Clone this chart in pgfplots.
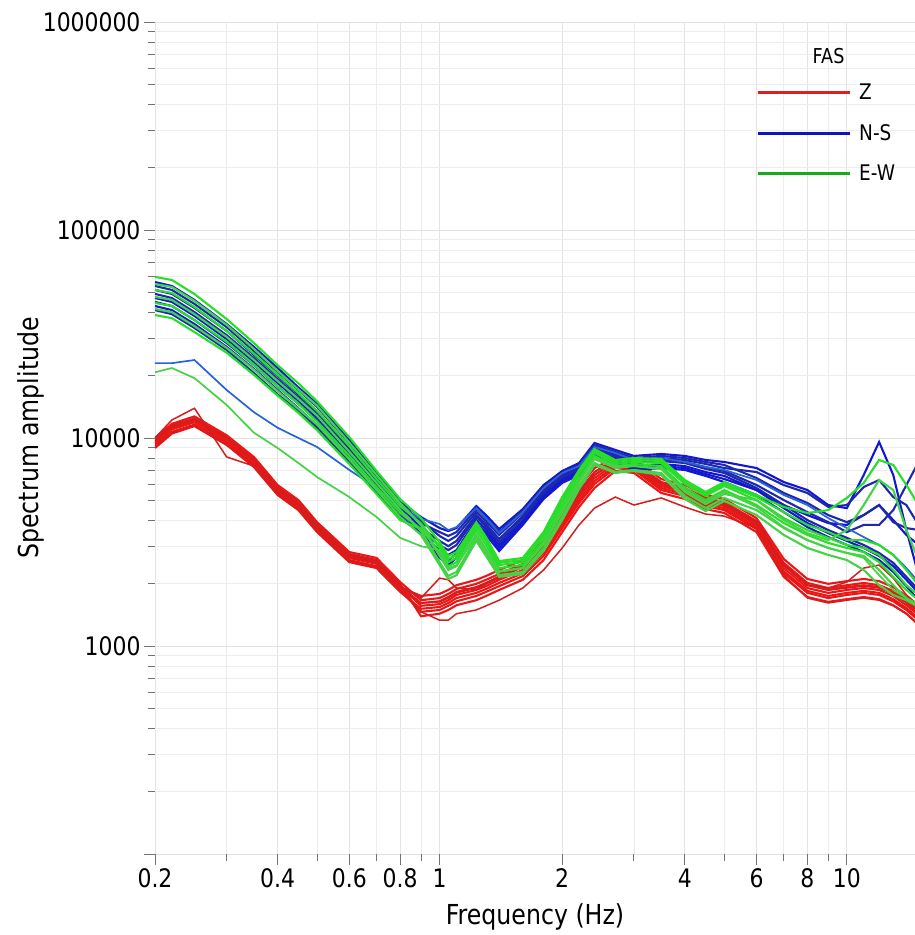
\documentclass[border=0pt]{standalone}
\usepackage{fontspec}
\setmainfont{DejaVu Sans}[FakeStretch=0.86]
\usepackage{pgfplots}
\usepackage{pgfplotstable}
\pgfplotsset{compat=1.18}

\definecolor{zred}{RGB}{235,22,22}
\definecolor{zredd}{RGB}{210,30,30}
\definecolor{nsblue}{RGB}{18,24,205}
\definecolor{nsblue2}{RGB}{30,40,175}
\definecolor{nsbluel}{RGB}{40,100,215}
\definecolor{ewgreen}{RGB}{40,222,40}
\definecolor{ewgreen2}{RGB}{70,210,70}
\definecolor{legred}{RGB}{225,30,30}
\definecolor{legblue}{RGB}{15,20,185}
\definecolor{leggreen}{RGB}{25,170,25}

% Z component (red)
\pgfplotstableread{
f    r1    r2    r3    r4    r5    r6    r7    rpk   rlow  rrise
0.2  10000 9780  9570  9460  9360  9150  8950  10000 9050  9670
0.22 11700 11500 11200 11100 11000 10700 10500 12200 10600 11400
0.25 12700 12400 12200 12000 11900 11600 11400 13900 11500 12300
0.3  10300 10100 9890  9780  9670  9460  9250  8100  9360  10000
0.35 8100  7930  7750  7670  7580  7420  7250  7330  7330  7840
0.4  5940  5810  5690  5620  5560  5440  5320  5560  5380  5750
0.45 5030  4920  4810  4760  4710  4600  4500  4760  4550  4870
0.5  3940  3860  3770  3730  3690  3610  3530  3730  3570  3820
0.6  2830  2770  2710  2680  2650  2590  2530  2680  2560  2740
0.7  2650  2590  2530  2510  2480  2420  2370  2510  2400  2560
0.8  2030  1990  1940  1920  1900  1860  1820  1940  1840  1960
0.9  1660  1390  1560  1740  1460  1610  1510  1700  1460  1610
1.0  1700  1430  1590  1780  1490  1640  1540  2120  1330  1630
1.05 1780  1490  1660  1860  1560  1720  1610  2080  1330  1700
1.1  1880  1570  1760  1960  1640  1820  1700  1900  1430  1800
1.23 1990  1660  1860  2080  1740  1920  1800  1860  1490  1900
1.3  2080  1740  1940  2170  1820  2010  1880  1990  1560  1990
1.4  2220  1860  2080  2320  1940  2150  2010  2170  1660  2120
1.6  2480  2080  2320  2590  2170  2400  2240  2450  1900  2400
1.8  3090  2590  2890  3230  2710  2990  2800  3060  2320  2990
2.0  4210  3530  3940  4400  3690  4080  3820  4120  2960  4080
2.2  5560  4660  5200  5810  4870  5380  5030  5500  3820  5380
2.4  6860  5750  6420  7170  6010  6640  6210  6860  4600  6640
2.7  7840  6940  7500  8100  7170  7670  7330  8010  5200  7670
3.0  7670  6790  7330  7930  7020  7500  7170  7670  4760  7500
3.5  6140  5440  5880  6350  5620  6010  5750  6010  5150  6010
4.0  5750  5090  5500  5940  5260  5620  5380  5620  4660  5620
4.5  5150  4550  4920  5320  4710  5030  4810  5030  4310  5030
5.0  4920  4360  4710  5090  4500  4810  4600  4760  4210  4810
6.0  3990  3530  3820  4120  3650  3900  3730  3940  3690  3940
7.0  2510  2150  2370  2620  2240  2450  2290  2450  2190  2450
8.0  2010  1720  1900  2100  1800  1960  1840  1960  1700  1960
9.0  1900  1630  1800  1990  1700  1860  1740  1860  1610  1900
10   1960  1680  1860  2050  1760  1920  1800  1900  1660  2030
11   2010  1720  1900  2100  1800  1960  1840  1940  1700  2370
12   1960  1680  1860  2050  1760  1920  1800  1900  1660  2450
13   1840  1570  1740  1920  1640  1800  1680  1780  1560  2120
14   1660  1430  1570  1740  1490  1630  1520  1610  1430  1760
15   1490  1270  1410  1560  1330  1460  1360  1440  1260  1570
}\ztab

% N-S component (blue)
\pgfplotstableread{
f    b1    b2    b3    b4    b5    b6    b7    b8    bo
0.2  56200 53800 51500 49300 47100 45100 43100 41200 22900
0.22 53800 51500 49300 47100 45100 43100 41200 39400 22900
0.25 46100 44100 42200 40300 38600 36900 35300 33800 23700
0.3  35300 34100 32700 31200 29900 28600 27400 26500 17000
0.35 27400 26200 25100 24200 23200 22400 21500 20500 13300
0.4  21700 20800 19900 19200 18400 17700 17000 16200 11200
0.45 17500 17000 16200 15700 15100 14600 13900 13500 10000
0.5  14600 14100 13400 13000 12500 12100 11500 11200 9050
0.6  9770  9460  9070  8840  8450  8140  7910  7660  7020
0.7  6780  6560  6350  6140  6010  5810  5620  5430  5750
0.8  4920  4810  4710  4560  4460  4310  4210  4120  4660
0.9  4170  3990  3690  3900  3490  3690  3490  3490  4080
1.0  3690  3380  2770  3530  2650  3200  2890  3060  3860
1.05 3570  3200  2590  3380  2450  3020  2740  2890  3610
1.1  3690  3380  2770  3530  2650  3200  2890  3060  3730
1.23 4710  4400  3900  4550  3770  4260  4030  4170  4600
1.3  4260  3990  3530  4120  3420  3860  3650  3770  4120
1.4  3650  3420  2960  3530  2860  3270  3060  3160  3490
1.6  4550  4360  3900  4450  3820  4210  3990  4120  4400
1.8  5940  5690  5200  5810  5090  5560  5320  5440  5750
2.0  6940  6640  6210  6790  6080  6570  6350  6490  6790
2.2  7580  7250  6790  7420  6640  7170  6940  7100  7330
2.4  9460  9050  8470  9250  8290  8950  8660  8850  9050
2.7  8760  8380  7840  8560  7670  8290  8010  8200  8470
3.0  8200  7840  7170  8010  7020  7670  7330  7580  7840
3.5  8380  8010  7330  8200  7170  7840  7500  7750  8010
4.0  8200  7840  7170  8010  7020  7670  7330  7580  7670
4.5  7840  7500  6710  7670  6570  7250  6860  7100  7250
5.0  7670  7170  6350  7420  6140  6940  6570  6790  7020
6.0  7170  6860  5620  6420  5320  5940  5620  5750  6280
7.0  6140  5940  4760  5440  4400  5030  4600  4760  5320
8.0  5620  5440  4260  4870  3730  4400  3900  4030  4760
9.0  4760  4660  3900  4260  3340  3940  3490  3610  4120
10   4600  4760  3820  3940  3060  3530  3200  3310  3690
11   6640  5810  4260  4260  2830  3820  2960  3060  3340
12   9570  6280  4760  4760  2590  3820  2710  2800  3060
13   6640  5200  4030  3940  2270  4500  2420  2510  2740
14   3610  4760  3420  3690  1940  5940  2080  2150  2370
15   2190  3820  3060  3610  1660  7670  1800  1860  2030
}\nstab

% E-W component (green)
\pgfplotstableread{
f    g1    g2    g3    g4    g5    g6    g7    go
0.2  59500 55000 51500 47700 44600 41700 39000 20700
0.22 57500 53200 49800 46100 43100 40300 37700 21700
0.25 49200 45600 42600 39400 36900 34500 32300 19400
0.3  37300 35000 32700 30600 29000 27100 25700 14400
0.35 28600 26800 25400 23700 22500 21300 20100 10600
0.4  22400 21000 20100 18800 17700 16800 16000 8950
0.45 18300 17100 16400 15400 14600 13800 13200 7580
0.5  15000 14300 13500 12800 12000 11600 10900 6490
0.6  10100 9510  9130  8590  8210  7900  7500  5200
0.7  6940  6640  6350  6080  5810  5630  5380  4170
0.8  5090  4870  4710  4510  4360  4170  4030  3310
0.9  4120  3810  3890  3570  3650  3420  3650  3020
1.0  3160  2710  2960  2530  2830  2450  3060  2890
1.05 2710  2320  2530  2170  2420  2100  2620  2370
1.1  2830  2420  2650  2270  2530  2190  2740  2450
1.23 3940  3460  3770  3310  3610  3200  3860  3380
1.3  3340  2920  3200  2800  3060  2710  3270  2890
1.4  2560  2290  2450  2190  2370  2150  2510  2270
1.6  2650  2370  2530  2270  2450  2220  2590  2370
1.8  3530  3090  3380  2960  3230  2860  3460  3130
2.0  5200  4400  4870  4170  4660  4030  5030  4500
2.2  7020  6140  6710  5880  6420  5690  6860  6280
2.4  8850  7930  8470  7580  8200  7420  8660  8010
2.7  7840  7170  7500  6860  7330  6790  7670  7330
3.0  8010  7330  7670  7020  7500  6940  7840  7330
3.5  7930  7100  7580  6790  7330  6640  7750  7170
4.0  6280  5500  6010  5260  5750  5090  6140  5620
4.5  5500  4810  5260  4600  5030  4450  5380  4920
5.0  6140  5380  5880  5150  5620  4980  6010  5500
6.0  5320  5030  5030  4500  4760  4260  5200  4660
7.0  4660  4030  4120  3690  3900  3420  4400  3730
8.0  4360  3490  3610  3230  3420  2960  3820  3230
9.0  4500  3230  3310  2960  3130  2740  3530  2960
10   5150  3610  3060  2800  2960  2590  3230  2800
11   6080  4760  2960  2710  2830  2320  3230  2650
12   7840  6280  2740  2320  2530  1960  3060  2190
13   7420  5620  2320  1960  2150  1760  2740  1860
14   5940  3610  1960  1700  1860  1660  2320  1700
15   4760  2590  1760  1540  1660  1540  1960  1590
}\ewtab

\begin{document}
\begin{tikzpicture}
\begin{axis}[
  xmode=log, ymode=log,
  scale only axis, width=760pt, height=832pt,
  xmin=0.2, xmax=14.7, ymin=100, ymax=1000000,
  axis line style={draw=none},
  tick pos=left, tick align=outside,
  major tick length=11pt, minor tick length=7pt,
  tick style={draw=black!55, line width=0.9pt},
  xtick={0.2,0.4,0.6,0.8,1,2,4,6,8,10},
  xticklabels={0.2,0.4,0.6,0.8,1,2,4,6,8,10},
  minor xtick={0.3,0.5,0.7,0.9,3,5,7,9},
  ytick={100,1000,10000,100000,1000000},
  yticklabels={,1000,10000,100000,1000000},
  minor ytick={200,300,400,500,600,700,800,900,2000,3000,4000,5000,6000,7000,8000,9000,20000,30000,40000,50000,60000,70000,80000,90000,200000,300000,400000,500000,600000,700000,800000,900000},
  grid=both,
  major grid style={draw=black!11, line width=0.9pt},
  minor grid style={draw=black!7, line width=0.7pt},
  /pgf/number format/assume math mode=true,
  ticklabel style={font=\fontsize{25.5}{30}\selectfont},
  xlabel={Frequency (Hz)},
  ylabel={Spectrum amplitude},
  every axis x label/.style={at={(rel axis cs:0.5,0)}, anchor=base, yshift=-71pt, font=\fontsize{27.5}{32}\selectfont},
  every axis y label/.style={at={(rel axis cs:-0.163,0.5)}, anchor=center, rotate=90, font=\fontsize{27.5}{32}\selectfont},
  legend image code/.code={\draw[#1] (0pt,0pt) -- (92pt,0pt);},
  legend style={draw=none, fill=none, at={(rel axis cs:0.7868,0.8665)}, anchor=west,
    font=\fontsize{21.5}{25}\selectfont, row sep=19pt,
    /tikz/every odd column/.append style={column sep=6pt}},
  legend cell align=left,
]
\addlegendimage{legred, line width=3pt}
\addlegendimage{legblue, line width=3pt}
\addlegendimage{leggreen, line width=3pt}
\legend{Z, N-S, E-W}

% red
\foreach \c in {r1,r2,r3,r4,r5,r6,r7} {
  \addplot[zred, line width=2.1pt, forget plot] table[x=f, y=\c] {\ztab};
}
\addplot[zredd, line width=1.5pt, forget plot] table[x=f, y=rpk] {\ztab};
\addplot[zredd, line width=1.5pt, forget plot] table[x=f, y=rlow] {\ztab};
\addplot[zredd, line width=1.5pt, forget plot] table[x=f, y=rrise] {\ztab};
% blue
\foreach \c in {b1,b3,b5,b7} {
  \addplot[nsblue, line width=2.1pt, forget plot] table[x=f, y=\c] {\nstab};
}
\foreach \c in {b2,b4,b6,b8} {
  \addplot[nsblue2, line width=2.1pt, forget plot] table[x=f, y=\c] {\nstab};
}
\addplot[nsbluel, line width=1.7pt, forget plot] table[x=f, y=bo] {\nstab};
% green
\foreach \c in {g1,g3,g5,g7} {
  \addplot[ewgreen, line width=2.1pt, forget plot] table[x=f, y=\c] {\ewtab};
}
\foreach \c in {g2,g4,g6} {
  \addplot[ewgreen2, line width=2.1pt, forget plot] table[x=f, y=\c] {\ewtab};
}
\addplot[ewgreen2, line width=1.7pt, forget plot] table[x=f, y=go] {\ewtab};

\node[anchor=base east, font=\fontsize{20.5}{24}\selectfont] at (rel axis cs:0.9118,0.9507) {FAS};
\coordinate (bl) at (rel axis cs:0,0);
\coordinate (tr) at (rel axis cs:1,1);
\end{axis}
\pgfresetboundingbox
\path[use as bounding box] ([xshift=-155pt,yshift=-81pt]bl) rectangle ([yshift=22pt]tr);
\end{tikzpicture}
\end{document}
